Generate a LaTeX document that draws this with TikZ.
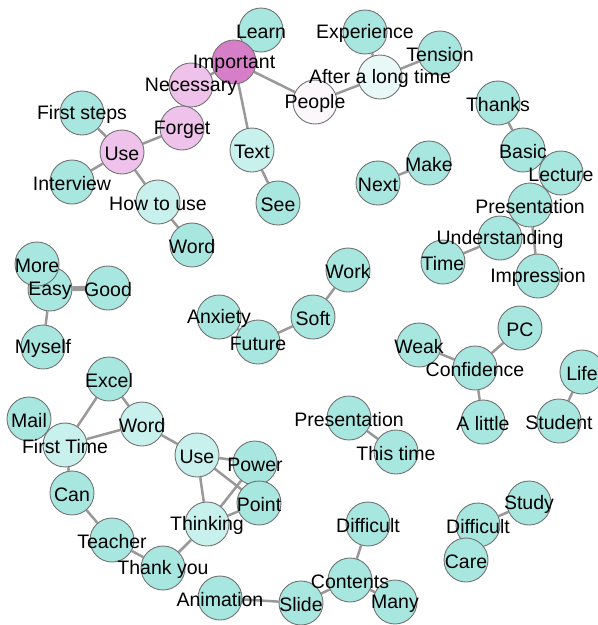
\documentclass[tikz,border=0pt]{standalone}
\usepackage{fontspec}
\setmainfont{Liberation Sans}
\usepackage{tikz}
\usetikzlibrary{positioning}
\definecolor{wordteal}{HTML}{A8E6E0}
\definecolor{wordlight}{HTML}{C8F0EC}
\definecolor{wordpale}{HTML}{E8F8F6}
\definecolor{wordwhite}{HTML}{FBF7FB}
\definecolor{wordpink}{HTML}{EEC2EA}
\definecolor{wordmag}{HTML}{D67FC8}
\definecolor{edgegray}{HTML}{999999}
\pgfdeclarelayer{background}
\pgfsetlayers{background,main}

\begin{document}
\begin{tikzpicture}[x=1pt,y=-1pt,
  word/.style={circle,draw=gray!90!black,line width=0.9pt,fill=wordteal,minimum size=44pt,inner sep=0pt},
  link/.style={draw=edgegray,line width=2.5pt},
  lbl/.style={font=\fontsize{19.5}{20}\selectfont,inner sep=0pt,yshift=-1.5pt}]
\useasboundingbox (0,0) rectangle (598,625);

\node[word] (learn) at (261,30) {};
\node[word,fill=wordmag] (imp) at (234,62) {};
\node[word,fill=wordpink] (nec) at (191,85) {};
\node[word,fill=wordpink] (forget) at (182,128) {};
\node[word] (first) at (82,113) {};
\node[word] (interv) at (72,182) {};
\node[word,fill=wordpink] (use) at (122,152) {};
\node[word,fill=wordlight] (howto) at (158,202) {};
\node[word] (wordA) at (192,245) {};
\node[word,fill=wordlight] (text) at (252,150) {};
\node[word] (see) at (278,203) {};
\node[word,fill=wordwhite] (people) at (315,102) {};
\node[word] (exper) at (365,32) {};
\node[word] (tension) at (440,53) {};
\node[word,fill=wordpale] (after) at (380,77) {};
\node[word] (thanks) at (498,103) {};
\node[word] (basic) at (523,150) {};
\node[word] (lecture) at (561,173) {};
\node[word] (presA) at (530,205) {};
\node[word] (underst) at (500,238) {};
\node[word] (time) at (443,262) {};
\node[word] (impress) at (538,276) {};
\node[word] (next) at (378,183) {};
\node[word] (make) at (429,163) {};
\node[word] (easy) at (50,289) {};
\node[word] (more) at (37,264) {};
\node[word] (good) at (108,288) {};
\node[word] (myself) at (43,347) {};
\node[word] (anxiety) at (219,317) {};
\node[word] (future) at (258,342) {};
\node[word] (soft) at (313,317) {};
\node[word] (work) at (348,270) {};
\node[word] (weak) at (419,345) {};
\node[word] (pc) at (520,328) {};
\node[word] (conf) at (475,368) {};
\node[word] (alittle) at (483,422) {};
\node[word] (life) at (582,372) {};
\node[word] (student) at (559,421) {};
\node[word] (presB) at (349,418) {};
\node[word] (thistime) at (396,452) {};
\node[word] (excel) at (109,379) {};
\node[word] (mail) at (29,419) {};
\node[word,fill=wordlight] (firsttime) at (65,445) {};
\node[word,fill=wordlight] (wordB) at (142,424) {};
\node[word,fill=wordlight] (useB) at (197,455) {};
\node[word] (power) at (255,463) {};
\node[word] (point) at (259,503) {};
\node[word,fill=wordlight] (thinking) at (207,524) {};
\node[word] (can) at (72,493) {};
\node[word] (teacher) at (112,540) {};
\node[word] (thankyou) at (163,568) {};
\node[word] (anim) at (220,598) {};
\node[word] (slide) at (301,603) {};
\node[word] (diffA) at (368,524) {};
\node[word] (contents) at (350,580) {};
\node[word] (many) at (395,602) {};
\node[word] (study) at (529,503) {};
\node[word] (diffB) at (478,525) {};
\node[word] (care) at (466,560) {};

\begin{pgfonlayer}{background}
\draw[link] (imp)--(learn) (imp)--(nec) (imp)--(people) (imp)--(text);
\draw[link] (nec)--(forget) (forget)--(use) (use)--(first) (use)--(interv);
\draw[link] (use)--(howto) (howto)--(wordA) (text)--(see);
\draw[link] (people)--(after) (after)--(exper) (after)--(tension);
\draw[link] (thanks)--(basic) (basic)--(lecture) (lecture)--(presA);
\draw[link] (presA)--(underst) (presA)--(impress) (underst)--(time);
\draw[link] (next)--(make);
\draw[link] (more)--(easy) (easy)--(myself);
\draw[link,line width=5pt] (easy)--(good);
\draw[link] (anxiety)--(future) (future)--(soft) (soft)--(work);
\draw[link] (weak)--(conf) (conf)--(pc) (conf)--(alittle) (life)--(student);
\draw[link] (presB)--(thistime);
\draw[link] (excel)--(firsttime) (excel)--(wordB) (mail)--(firsttime) (firsttime)--(wordB);
\draw[link] (firsttime)--(can) (can)--(teacher) (teacher)--(thankyou) (thankyou)--(thinking);
\draw[link] (wordB)--(useB) (useB)--(power) (useB)--(point) (useB)--(thinking);
\draw[link] (thinking)--(power) (thinking)--(point) (power)--(point);
\draw[link] (anim)--(slide) (slide)--(contents) (contents)--(diffA) (contents)--(many);
\draw[link] (diffB)--(study) (diffB)--(care);
\end{pgfonlayer}

\node[lbl] at (learn) {Learn};
\node[lbl] at (imp) {Important};
\node[lbl] at (nec) {Necessary};
\node[lbl] at (forget) {Forget};
\node[lbl] at (first) {First steps};
\node[lbl] at (interv) {Interview};
\node[lbl] at (use) {Use};
\node[lbl] at (howto) {How to use};
\node[lbl] at (wordA) {Word};
\node[lbl] at (text) {Text};
\node[lbl] at (see) {See};
\node[lbl] at (people) {People};
\node[lbl] at (exper) {Experience};
\node[lbl] at (tension) {Tension};
\node[lbl] at (after) {After a long time};
\node[lbl] at (thanks) {Thanks};
\node[lbl] at (basic) {Basic};
\node[lbl] at (lecture) {Lecture};
\node[lbl] at (presA) {Presentation};
\node[lbl] at (underst) {Understanding};
\node[lbl] at (time) {Time};
\node[lbl] at (impress) {Impression};
\node[lbl] at (next) {Next};
\node[lbl] at (make) {Make};
\node[lbl] at (more) {More};
\node[lbl] at (easy) {Easy};
\node[lbl] at (good) {Good};
\node[lbl] at (myself) {Myself};
\node[lbl] at (anxiety) {Anxiety};
\node[lbl] at (future) {Future};
\node[lbl] at (soft) {Soft};
\node[lbl] at (work) {Work};
\node[lbl] at (weak) {Weak};
\node[lbl] at (pc) {PC};
\node[lbl] at (conf) {Confidence};
\node[lbl] at (alittle) {A little};
\node[lbl] at (life) {Life};
\node[lbl] at (student) {Student};
\node[lbl] at (presB) {Presentation};
\node[lbl] at (thistime) {This time};
\node[lbl] at (excel) {Excel};
\node[lbl] at (mail) {Mail};
\node[lbl] at (firsttime) {First Time};
\node[lbl] at (wordB) {Word};
\node[lbl] at (useB) {Use};
\node[lbl] at (power) {Power};
\node[lbl] at (point) {Point};
\node[lbl] at (thinking) {Thinking};
\node[lbl] at (can) {Can};
\node[lbl] at (teacher) {Teacher};
\node[lbl] at (thankyou) {Thank you};
\node[lbl] at (anim) {Animation};
\node[lbl] at (slide) {Slide};
\node[lbl] at (diffA) {Difficult};
\node[lbl] at (contents) {Contents};
\node[lbl] at (many) {Many};
\node[lbl] at (study) {Study};
\node[lbl] at (diffB) {Difficult};
\node[lbl] at (care) {Care};
\end{tikzpicture}
\end{document}
